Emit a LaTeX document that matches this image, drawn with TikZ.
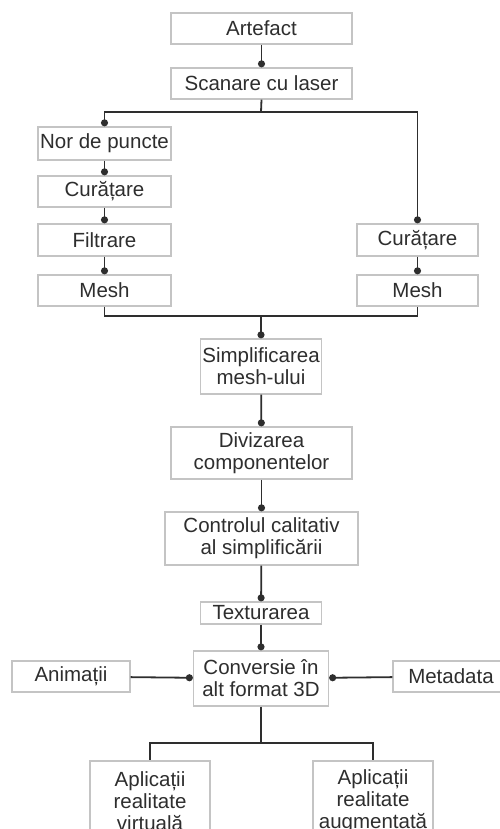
\documentclass[tikz,border=0pt]{standalone}
\usepackage{fontspec}
\setmainfont{Liberation Sans}
\usetikzlibrary{arrows.meta}
\definecolor{boxline}{HTML}{C4C4C4}
\definecolor{ink}{HTML}{2E2E2E}
\begin{document}
\begin{tikzpicture}[x=1pt,y=-1pt,
  box/.style={draw=boxline, line width=1.3pt, fill=white, inner sep=0pt, align=center,
    text=ink, font=\fontsize{20.5}{22}\selectfont},
  conn/.style={draw=ink, line width=1.8pt},
  arr/.style={conn, -{Circle[length=7pt]}}]
\useasboundingbox (0,0) rectangle (500,829);
\clip (0,0) rectangle (500,829);
\fill[white] (0,0) rectangle (500,829);

\node[box, minimum width=181pt, minimum height=31pt] (art) at (261.5,28.5) {Artefact};
\node[box, minimum width=181pt, minimum height=31pt] (scan) at (261.5,83.5) {Scanare cu laser};
\node[box, minimum width=133pt, minimum height=33pt] (nor) at (104.5,143.5) {Nor de puncte};
\node[box, minimum width=133pt, minimum height=31pt] (cur1) at (104.5,191.5) {Curățare};
\node[box, minimum width=133pt, minimum height=32pt] (filt) at (104.5,240) {Filtrare};
\node[box, minimum width=133pt, minimum height=31pt] (mesh1) at (104.5,290.5) {Mesh};
\node[box, minimum width=121pt, minimum height=32pt] (cur2) at (417.5,240) {Curățare};
\node[box, minimum width=121pt, minimum height=31pt] (mesh2) at (417.5,290.5) {Mesh};
\node[box, minimum width=121pt, minimum height=55pt] (simp) at (261,366.5) {Simplificarea\\mesh-ului};
\node[box, minimum width=181pt, minimum height=52pt] (div) at (261.5,453) {Divizarea\\componentelor};
\node[box, minimum width=193pt, minimum height=53pt] (ctrl) at (261.5,538.5) {Controlul calitativ\\al simplificării};
\node[box, minimum width=121pt, minimum height=22pt] (tex) at (261,613) {Texturarea};
\node[box, minimum width=135pt, minimum height=55pt] (conv) at (261,678.5) {Conversie în\\alt format 3D};
\node[box, minimum width=118pt, minimum height=31pt] (anim) at (71,676.5) {Animații};
\node[box, minimum width=108pt, minimum height=31pt, text width=116pt] (meta) at (451,676.5) {Metadata};
\node[box, minimum width=120pt, minimum height=80pt] (app1) at (150,801) {Aplicații\\realitate\\virtuală};
\node[box, minimum width=120pt, minimum height=80pt] (app2) at (373,801) {Aplicații\\realitate\\augmentată};

\coordinate (b1) at (261,112);
\coordinate (m) at (261,316);
\coordinate (c) at (261,743);

\draw[arr] (art) -- (scan);
\draw[conn] (scan.south) -- (b1);
\draw[arr] (b1) -| (nor.north);
\draw[arr] (b1) -| (cur2.north);
\draw[arr] (nor) -- (cur1);
\draw[arr] (cur1) -- (filt);
\draw[arr] (filt) -- (mesh1);
\draw[arr] (cur2) -- (mesh2);
\draw[conn] (mesh1.south) |- (m) -| (mesh2.south);
\draw[arr] (m) -- (simp.north);
\draw[arr] (simp) -- (div);
\draw[arr] (div) -- (ctrl);
\draw[arr] (ctrl) -- (tex);
\draw[arr] (tex) -- (conv);
\draw[arr] (anim) -- (conv);
\draw[arr] (meta) -- (conv);
\draw[conn] (conv.south) -- (c);
\draw[conn] (c) -| (app1.north);
\draw[conn] (c) -| (app2.north);
\end{tikzpicture}
\end{document}
